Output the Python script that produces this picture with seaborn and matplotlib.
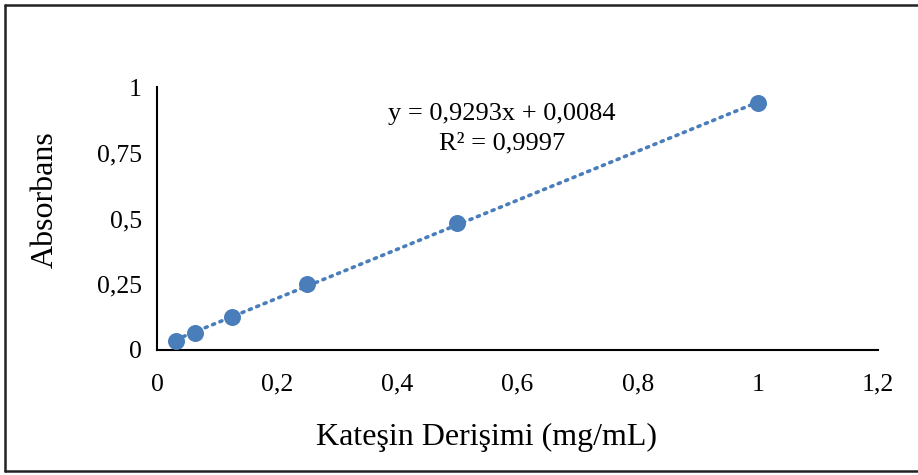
import numpy as np
import pandas as pd
import matplotlib
matplotlib.use("Agg")
import matplotlib.pyplot as plt
import seaborn as sns
from matplotlib.lines import Line2D

# Data
concentration = [0.03125, 0.0625, 0.125, 0.25, 0.5, 1.0]
absorbance = [0.035, 0.065, 0.125, 0.251, 0.482, 0.938]
x_ticks = [0, 0.2, 0.4, 0.6, 0.8, 1.0, 1.2]
x_tick_labels = ["0", "0,2", "0,4", "0,6", "0,8", "1", "1,2"]
y_ticks = [0, 0.25, 0.5, 0.75, 1.0]
y_tick_labels = ["0", "0,25", "0,5", "0,75", "1"]
equation_text = "y = 0,9293x + 0,0084"
r2_text = "R² = 0,9997"

sns.set_theme(style="white")
plt.rcParams['font.family'] = ['Liberation Serif', 'DejaVu Serif']

color = "#4A7EBB"
fig = plt.figure(figsize=(9.18, 4.75), dpi=100)
ax = fig.add_axes([157/918, 1-350/475, (878-157)/918, (350-87)/475])

df = pd.DataFrame({"x": concentration, "y": absorbance})
slope, intercept = np.polyfit(df["x"], df["y"], 1)
trend = pd.DataFrame({"x": [min(concentration), max(concentration)]})
trend["y"] = slope * trend["x"] + intercept
sns.lineplot(data=trend, x="x", y="y", ax=ax, color=color, linewidth=2.6,
             linestyle=(0, (0.6, 1.6)), dash_capstyle="round")
sns.scatterplot(data=df, x="x", y="y", ax=ax, color=color, s=150,
                edgecolor=color, linewidth=0, zorder=3)

ax.set_xlim(0, 1.2)
ax.set_ylim(0, 1.0)
ax.set_xticks(x_ticks)
ax.set_xticklabels(x_tick_labels)
ax.set_yticks(y_ticks)
ax.set_yticklabels(y_tick_labels)
ax.tick_params(axis="both", length=0, labelsize=18.5, colors="black")
ax.tick_params(axis="x", pad=17)
ax.tick_params(axis="y", pad=11)
for s in ["top", "right"]:
    ax.spines[s].set_visible(False)
for s in ["left", "bottom"]:
    ax.spines[s].set_color("black")
    ax.spines[s].set_linewidth(1.5)
ax.set_xlabel("")
ax.set_ylabel("")
ax.grid(False)

ax.text(0.574, 0.898, equation_text, ha="center", va="center", fontsize=19, color="black")
ax.text(0.574, 0.784, r2_text, ha="center", va="center", fontsize=19, color="black")

fig.text(487/918, 1-437/475, "Kateşin Derişimi (mg/mL)", ha="center", va="center",
         fontsize=23, color="black")
fig.text(45/918, 1-200/475, "Absorbans", ha="center", va="center", rotation=90,
         fontsize=23, color="black")

# Figure border (left, top, bottom)
bx0, bx1 = 5/918, 1.0
by0, by1 = 1-471/475, 1-5/475
for xs, ys in [([bx0, bx0], [by0, by1]), ([bx0, bx1], [by1, by1]), ([bx0, bx1], [by0, by0])]:
    fig.add_artist(Line2D(xs, ys, color="#222222", linewidth=1.8, transform=fig.transFigure))

fig.savefig("out.png", dpi=100)
